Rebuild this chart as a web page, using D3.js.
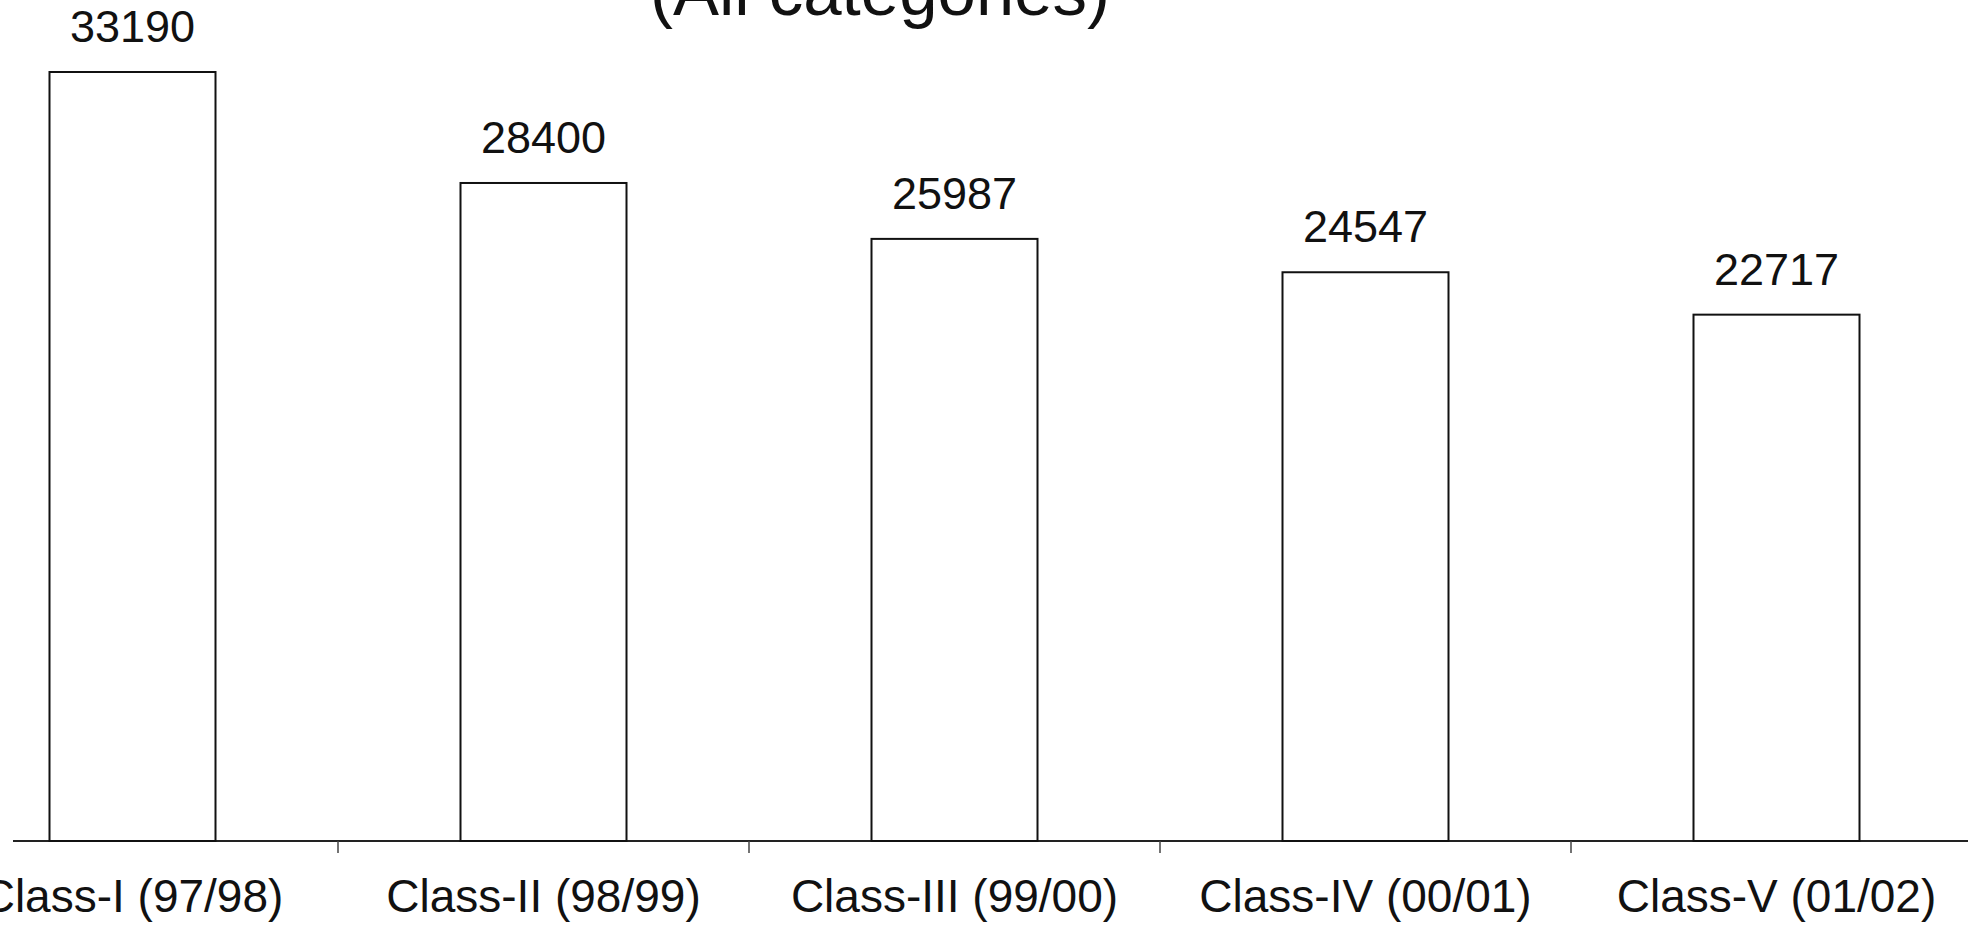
<!DOCTYPE html>
<html>

<head>
    <title>Enrolment by class</title>
    <!-- Load D3.js from CDN -->
    <script src="https://d3js.org/d3.v7.min.js"></script>
    <meta name="viewport" content="width=device-width, initial-scale=1">
    <style>
        body {
            margin: 0;
            background: #ffffff;
            font-family: 'Liberation Sans', Arial, sans-serif;
        }

        svg {
            display: block;
        }

        .bar {
            fill: #ffffff;
            stroke: #111111;
            stroke-width: 2;
        }

        .value-label,
        .cat-label {
            fill: #111111;
            text-anchor: middle;
        }
    </style>
</head>

<body>
    <svg width="1978" height="939"></svg>
    <script>
        // chart data
        var categories = ["Class-I (97/98)", "Class-II (98/99)", "Class-III (99/00)", "Class-IV (00/01)", "Class-V (01/02)"];
        var values = [33190, 28400, 25987, 24547, 22717];
        var title = "(All categories)";

        var svg = d3.select("svg"),
            width = +svg.attr("width"),
            height = +svg.attr("height");

        // the scan is cropped on the left, so the band range starts off-page
        var x = d3.scaleBand()
            .domain(categories)
            .range([-73, 1982])
            .paddingInner(0.6)
            .paddingOuter(0.3);

        var baseY = 841;
        var y = d3.scaleLinear()
            .domain([0, d3.max(values)])
            .range([baseY, 72]);

        // title (only the bottom of the second line survives the crop)
        svg.append("text")
            .attr("x", 880)
            .attr("y", 15)
            .attr("text-anchor", "middle")
            .attr("font-size", 69)
            .attr("fill", "#111")
            .text(title);

        // axis line with ticks between the categories
        var step = x.step();
        var x0 = x.range()[0];
        svg.append("line")
            .attr("x1", 13)
            .attr("x2", 1968)
            .attr("y1", baseY)
            .attr("y2", baseY)
            .attr("stroke", "#222")
            .attr("stroke-width", 2);

        svg.append("g")
            .selectAll("line")
            .data(d3.range(1, categories.length))
            .enter().append("line")
            .attr("x1", d => x0 + d * step)
            .attr("x2", d => x0 + d * step)
            .attr("y1", baseY)
            .attr("y2", baseY + 12)
            .attr("stroke", "#444")
            .attr("stroke-width", 1.5);

        // bars
        var bw = 166;
        svg.append("g")
            .selectAll("rect")
            .data(values)
            .enter().append("rect")
            .attr("class", "bar")
            .attr("x", (d, i) => x(categories[i]) + x.bandwidth() / 2 - bw / 2)
            .attr("y", d => y(d))
            .attr("width", bw)
            .attr("height", d => baseY - y(d));

        // value labels above bars
        svg.append("g")
            .selectAll("text")
            .data(values)
            .enter().append("text")
            .attr("class", "value-label")
            .attr("x", (d, i) => x(categories[i]) + x.bandwidth() / 2)
            .attr("y", d => y(d) - 30)
            .attr("font-size", 45)
            .text(d => d);

        // category labels
        svg.append("g")
            .selectAll("text")
            .data(categories)
            .enter().append("text")
            .attr("class", "cat-label")
            .attr("x", d => x(d) + x.bandwidth() / 2)
            .attr("y", 912)
            .attr("font-size", 46)
            .text(d => d);
    </script>
</body>

</html>
